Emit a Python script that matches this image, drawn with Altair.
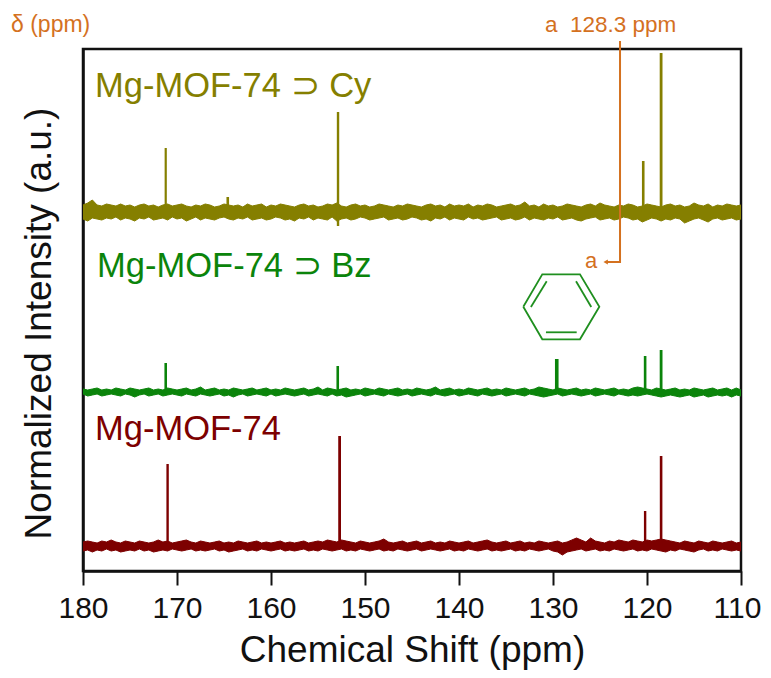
import altair as alt
import pandas as pd

ORANGE = "#d4711f"
OLIVE = "#857f00"
GREEN = "#0b840b"
RED = "#7d0000"
FONT = "Liberation Sans"

# Baseline noise envelopes, read at 0.5 ppm steps from 180 down to 110 ppm
ppm = [180 - 0.5 * i for i in range(141)]
cy_hi = [366, 368, 371, 366, 365, 367, 366, 365, 367, 365, 366, 364, 366, 367, 365, 366, 364, 366, 367, 365,
         366, 367, 365, 364, 366, 365, 367, 366, 364, 365, 367, 366, 365, 366, 364, 367, 365, 366, 367, 364,
         366, 365, 367, 366, 365, 364, 366, 367, 365, 366, 364, 365, 367, 366, 368, 365, 364, 366, 367, 365,
         366, 364, 365, 367, 366, 365, 364, 366, 365, 367, 366, 365, 364, 366, 367, 365, 366, 364, 367, 365,
         366, 365, 367, 364, 366, 365, 367, 366, 364, 365, 366, 367, 365, 366, 369, 365, 366, 364, 367, 365,
         366, 364, 365, 367, 366, 365, 364, 366, 367, 365, 368, 366, 365, 364, 366, 365, 367, 366, 364, 365,
         367, 366, 365, 364, 366, 367, 365, 366, 364, 365, 368, 366, 365, 367, 364, 366, 365, 367, 366, 365, 366]
cy_lo = [352, 350, 353, 352, 351, 353, 352, 354, 351, 353, 352, 350, 353, 352, 354, 351, 352, 353, 351, 354,
         352, 353, 350, 352, 354, 351, 353, 352, 351, 353, 354, 352, 351, 353, 352, 354, 351, 352, 353, 351,
         352, 354, 353, 351, 352, 350, 353, 352, 354, 351, 353, 352, 351, 354, 350, 352, 353, 351, 352, 354,
         353, 351, 352, 353, 354, 351, 352, 353, 351, 352, 354, 353, 351, 352, 350, 353, 352, 354, 351, 353,
         352, 351, 354, 352, 353, 351, 352, 353, 354, 351, 352, 353, 351, 352, 354, 351, 353, 352, 351, 353,
         352, 354, 351, 352, 353, 351, 350, 352, 353, 354, 351, 352, 353, 351, 352, 354, 353, 351, 352, 349,
         351, 353, 352, 350, 352, 351, 353, 352, 348, 350, 352, 353, 351, 349, 352, 353, 351, 352, 353, 351, 352]
bz_hi = [182, 181, 182, 183, 181, 182, 181, 183, 182, 181, 183, 182, 181, 182, 183, 181, 182, 181, 183, 182,
         181, 182, 183, 181, 182, 184, 181, 182, 183, 181, 182, 181, 183, 182, 181, 182, 183, 181, 182, 183,
         181, 182, 181, 183, 182, 181, 182, 183, 181, 182, 184, 181, 183, 182, 181, 182, 183, 181, 182, 181,
         183, 182, 181, 183, 182, 181, 182, 183, 181, 182, 181, 183, 182, 181, 182, 184, 181, 182, 183, 181,
         182, 181, 183, 182, 181, 182, 183, 181, 182, 181, 183, 182, 181, 182, 183, 181, 182, 184, 183, 182,
         181, 183, 182, 181, 182, 183, 181, 182, 181, 183, 182, 181, 182, 183, 181, 182, 181, 183, 184, 183,
         182, 181, 183, 182, 181, 182, 183, 181, 182, 181, 183, 182, 181, 182, 183, 181, 182, 183, 181, 183, 181]
bz_lo = [177, 175, 176, 177, 175, 176, 177, 176, 175, 177, 176, 174, 176, 177, 175, 176, 177, 175, 176, 177,
         176, 175, 177, 176, 175, 177, 176, 175, 176, 177, 175, 176, 174, 176, 177, 175, 176, 177, 176, 175,
         177, 175, 176, 177, 176, 175, 176, 177, 175, 176, 177, 176, 175, 177, 175, 176, 174, 175, 176, 177,
         175, 176, 177, 176, 175, 177, 176, 175, 176, 177, 175, 176, 177, 176, 175, 177, 176, 175, 176, 177,
         175, 176, 177, 176, 175, 177, 176, 175, 176, 177, 175, 176, 177, 176, 175, 177, 176, 175, 174, 175,
         176, 177, 175, 176, 177, 176, 175, 176, 177, 175, 176, 177, 176, 175, 177, 176, 175, 176, 175, 176,
         177, 176, 175, 174, 175, 176, 175, 174, 175, 176, 174, 175, 176, 174, 175, 176, 175, 176, 174, 176, 175]
mg_hi = [29, 30, 29, 28, 30, 29, 31, 29, 28, 30, 29, 28, 30, 29, 28, 29, 31, 29, 30, 28,
         29, 30, 31, 29, 28, 30, 29, 28, 29, 30, 28, 29, 28, 30, 29, 28, 29, 30, 28, 29,
         28, 29, 30, 28, 29, 28, 29, 30, 28, 29, 30, 29, 31, 30, 29, 31, 30, 29, 28, 30,
         29, 28, 29, 30, 32, 29, 28, 29, 30, 28, 29, 30, 28, 29, 30, 28, 29, 28, 30, 29,
         28, 29, 30, 28, 29, 30, 31, 29, 28, 29, 30, 28, 29, 30, 28, 29, 28, 30, 29, 28,
         29, 30, 28, 29, 31, 33, 31, 29, 33, 30, 29, 28, 30, 29, 31, 30, 29, 31, 30, 29,
         31, 30, 31, 32, 31, 30, 29, 28, 30, 29, 28, 30, 29, 28, 30, 29, 28, 29, 30, 28, 29]
mg_lo = [20, 21, 19, 21, 20, 22, 20, 21, 19, 20, 21, 20, 22, 20, 21, 19, 20, 21, 20, 22,
         21, 20, 21, 22, 20, 21, 20, 21, 22, 20, 21, 19, 20, 21, 22, 20, 21, 20, 22, 21,
         20, 21, 22, 20, 21, 20, 21, 22, 20, 21, 20, 22, 21, 20, 21, 22, 20, 21, 20, 22,
         21, 20, 21, 22, 20, 21, 20, 22, 21, 20, 21, 22, 20, 21, 22, 21, 20, 21, 22, 20,
         21, 20, 22, 21, 20, 21, 22, 20, 21, 20, 21, 22, 20, 21, 20, 22, 21, 20, 21, 22,
         20, 19, 16, 19, 20, 21, 22, 20, 21, 22, 20, 21, 20, 22, 21, 20, 21, 22, 20, 21,
         20, 22, 21, 20, 19, 21, 20, 22, 21, 20, 19, 21, 22, 20, 21, 20, 22, 21, 20, 21, 20]

# Resonances: sample, shift, base, top
peak_sample = ["Cy", "Cy", "Cy", "Cy", "Cy", "Cy", "Bz", "Bz", "Bz", "Bz", "Bz", "Mg", "Mg", "Mg", "Mg"]
peak_ppm = [171.2, 164.6, 152.87, 152.87, 120.4, 118.5, 171.2, 152.9, 129.6, 120.2, 118.5, 171.0, 152.7, 120.2, 118.5]
peak_base = [359, 359, 359, 359, 359, 359, 179, 179, 179, 179, 179, 25, 25, 25, 25]
peak_top = [423, 374, 459, 345, 410, 518, 208, 205, 212, 215, 221, 107, 135, 60, 115]
peak_width = [2.2, 2.6, 2.4, 2.4, 2.6, 2.8, 2.6, 2.6, 3.6, 2.6, 2.8, 2.4, 2.8, 2.4, 2.6]

label_text = ["Mg-MOF-74 ⊃ Cy", "Mg-MOF-74 ⊃ Bz", "Mg-MOF-74"]
label_ppm = [178.72, 178.5, 178.72]
label_y = [474, 294, 131]
label_color = [OLIVE, GREEN, RED]

note_text = ["δ (ppm)", "a\u00a0 128.3 ppm", "a"]
note_ppm = [187.66, 130.85, 126.6]
note_y = [539, 539, 303]
note_size = [23, 22.5, 22]

leader_ppm = [122.87, 122.87, 124.4]
leader_y = [530, 309, 309]

ring_ppm = [133.16, 131.14, 127.13, 125.07, 127.13, 131.14, 133.16]
ring_y = [264.3, 296.7, 296.7, 264.3, 231.7, 231.7, 264.3]
bond_id = ["a", "a", "b", "b", "c", "c"]
bond_ppm = [130.67, 132.35, 127.55, 125.93, 130.75, 127.48]
bond_y = [289.7, 264, 289.7, 264, 238.7, 238.7]

x_scale = alt.Scale(domain=[180, 110], nice=False, zero=False)
y_scale = alt.Scale(domain=[0, 522], nice=False, zero=False)
X = alt.X("x:Q", scale=x_scale, axis=alt.Axis(
    values=list(range(110, 190, 10)), grid=False, tickSize=14, tickWidth=2, tickColor="#111",
    domainColor="#111", domainWidth=2.5, labelFont=FONT, labelFontSize=30, labelColor="#111",
    labelPadding=8, labelFlush=False, labelOverlap=False, format="d",
    labelOffset={"condition": {"test": "datum.value == 110", "value": -4}, "value": 0},
    title="Chemical Shift (ppm)", titleFont=FONT, titleFontSize=37, titleFontWeight="normal",
    titleColor="#111", titleY=90, titleBaseline="alphabetic"))
Y = alt.Y("y:Q", scale=y_scale, axis=alt.Axis(
    values=[], ticks=False, labels=False, grid=False, domainColor="#111", domainWidth=2.5,
    title="Normalized Intensity (a.u.)", titleFont=FONT, titleFontSize=37, titleFontWeight="normal",
    titleColor="#111", titleX=-33, titleY=274, titleBaseline="alphabetic"))

layers = []
for hi, lo, col in [(cy_hi, cy_lo, OLIVE), (bz_hi, bz_lo, GREEN), (mg_hi, mg_lo, RED)]:
    band = pd.DataFrame({"x": ppm, "y": hi, "y2": lo})
    layers.append(alt.Chart(band).mark_area(color=col, stroke=col, strokeWidth=1, interpolate="linear", opacity=1, clip=True).encode(
        x=X, y=Y, y2="y2:Q"))

peaks = pd.DataFrame({"s": peak_sample, "x": peak_ppm, "y": peak_top, "y2": peak_base, "w": peak_width})
for s, col in [("Cy", OLIVE), ("Bz", GREEN), ("Mg", RED)]:
    layers.append(alt.Chart(peaks[peaks.s == s]).mark_rule(color=col).encode(
        x=alt.X("x:Q", scale=x_scale), y=alt.Y("y:Q", scale=y_scale), y2="y2:Q",
        strokeWidth=alt.StrokeWidth("w:Q", scale=None)))

labels = pd.DataFrame({"x": label_ppm, "y": label_y, "t": label_text, "c": label_color})
layers.append(alt.Chart(labels).mark_text(align="left", baseline="alphabetic", font=FONT, fontSize=34.5).encode(
    x=alt.X("x:Q", scale=x_scale), y=alt.Y("y:Q", scale=y_scale), text="t:N", color=alt.Color("c:N", scale=None)))

notes = pd.DataFrame({"x": note_ppm, "y": note_y, "t": note_text, "s": note_size})
layers.append(alt.Chart(notes).mark_text(align="left", baseline="alphabetic", font=FONT, color=ORANGE).encode(
    x=alt.X("x:Q", scale=x_scale), y=alt.Y("y:Q", scale=y_scale), text="t:N",
    size=alt.Size("s:Q", scale=None)))

leader = pd.DataFrame({"x": leader_ppm, "y": leader_y, "o": [0, 1, 2]})
layers.append(alt.Chart(leader).mark_line(color=ORANGE, strokeWidth=2, clip=False).encode(
    x=alt.X("x:Q", scale=x_scale), y=alt.Y("y:Q", scale=y_scale), order="o:O"))
layers.append(alt.Chart(leader.iloc[[2]]).mark_point(shape="triangle-left", filled=True, color=ORANGE, size=26, opacity=1).encode(
    x=alt.X("x:Q", scale=x_scale), y=alt.Y("y:Q", scale=y_scale)))

ring = pd.DataFrame({"x": ring_ppm, "y": ring_y, "o": list(range(len(ring_ppm)))})
layers.append(alt.Chart(ring).mark_line(color="#1f8f1f", strokeWidth=1.8).encode(
    x=alt.X("x:Q", scale=x_scale), y=alt.Y("y:Q", scale=y_scale), order="o:O"))
bonds = pd.DataFrame({"x": bond_ppm, "y": bond_y, "b": bond_id})
layers.append(alt.Chart(bonds).mark_line(color="#1f8f1f", strokeWidth=1.8).encode(
    x=alt.X("x:Q", scale=x_scale), y=alt.Y("y:Q", scale=y_scale), detail="b:N"))

chart = alt.layer(*layers).properties(
    width=658, height=522,
    autosize=alt.AutoSizeParams(type="none"),
    padding={"left": 75, "top": 41, "right": 22, "bottom": 99},
    background="white",
).configure_view(stroke="#111", strokeWidth=2.5)

chart.save("out.html", embed_options={"renderer": "svg", "actions": False})
